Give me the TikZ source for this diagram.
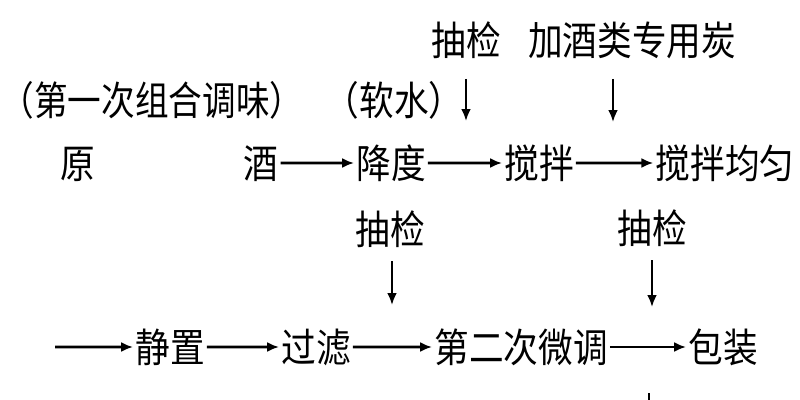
\documentclass[tikz,border=0pt]{standalone}
\usepackage{fontspec}
\usepackage{tikz}
\usetikzlibrary{arrows.meta}
\newfontfamily\cjk{Noto Sans CJK SC}

\tikzset{
  lbl/.style={inner xsep=1.5pt, inner ysep=0pt, yscale=1.15, text height=23pt, text depth=3pt, font=\cjk\fontsize{26}{30}\selectfont},
  flow/.style={line width=1.9pt, -{Latex[length=9pt,width=7.5pt]}},
}

\begin{document}
\begin{tikzpicture}[x=0.75pt,y=-0.75pt]

\useasboundingbox (0,0) rectangle (800,400);

% top labels
\node[lbl] (chou0) at (466,40) {抽检};
\node[lbl] (tan) at (632,40) {加酒类专用炭};
\node[lbl, xscale=0.97, inner xsep=0pt] (tiaowei) at (152,100) {（第一次组合调味）};
\node[lbl] (ruan) at (394,100) {（软水）};

% first row
\node[lbl] (yuan) at (78,163) {原};
\node[lbl] (jiu) at (261,163) {酒};
\node[lbl] (jiangdu) at (391,163) {降度};
\node[lbl] (jiaoban) at (539,163) {搅拌};
\node[lbl] (junyun) at (725,163) {搅拌均匀};

\node[lbl] (chou1) at (390,229) {抽检};
\node[lbl] (chou2) at (652,228) {抽检};

% second row
\node[lbl] (jingzhi) at (170,347) {静置};
\node[lbl] (guolv) at (316,347) {过滤};
\node[lbl] (weitiao) at (521,347) {第二次微调};
\node[lbl] (baozhuang) at (723,347) {包装};

\coordinate (in0) at (466,121);
\coordinate (in1) at (613,122);
\coordinate (in2) at (392,305);
\coordinate (in3) at (652,307);
\coordinate (start) at (55,347);
\coordinate (tail) at (649,393);

\draw[flow] (jiu) -- (jiangdu);
\draw[flow] (jiangdu) -- (jiaoban);
\draw[flow] (jiaoban) -- (junyun);

\draw[flow, shorten <=14pt] (chou0.south -| in0) -- (in0);
\draw[flow, shorten <=14pt] (tan.south -| in1) -- (in1);
\draw[flow, shorten <=9pt] (chou1.south -| in2) -- (in2);
\draw[flow, shorten <=9pt] (chou2.south -| in3) -- (in3);

\draw[flow] (start) -- (jingzhi);
\draw[flow] (jingzhi) -- (guolv);
\draw[flow] (guolv) -- (weitiao);
\draw[flow] (weitiao) -- (baozhuang);

\draw[line width=1.9pt] (tail) -- ++(0,10);

\end{tikzpicture}
\end{document}
